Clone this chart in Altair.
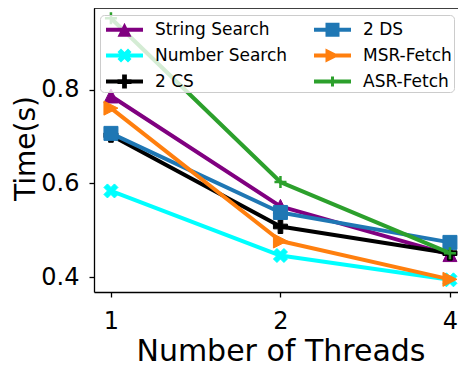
import altair as alt
import pandas as pd

threads = [1, 2, 4]
series = ["String Search", "Number Search", "2 CS", "2 DS", "MSR-Fetch", "ASR-Fetch"]
string_search = [0.787, 0.551, 0.448]
number_search = [0.584, 0.446, 0.394]
cs2 = [0.703, 0.508, 0.451]
ds2 = [0.707, 0.538, 0.474]
msr_fetch = [0.761, 0.477, 0.395]
asr_fetch = [0.953, 0.603, 0.451]
values = [string_search, number_search, cs2, ds2, msr_fetch, asr_fetch]
colors = ["#800080", "#00ffff", "#000000", "#1f77b4", "#ff7f0e", "#2ca02c"]

# marker paths (unit square -1..1)
TRI_UP = "M0,-1L1,1L-1,1Z"
X_FILL = "M-0.5,-1L0,-0.5L0.5,-1L1,-0.5L0.5,0L1,0.5L0.5,1L0,0.5L-0.5,1L-1,0.5L-0.5,0L-1,-0.5Z"
P_FILL = "M-0.333,-1H0.333V-0.333H1V0.333H0.333V1H-0.333V0.333H-1V-0.333H-0.333Z"
SQUARE = "M-1,-1H1V1H-1Z"
TRI_RIGHT = "M1,0L-1,1L-1,-1Z"
PLUS = "M-1,0H1M0,-1V1"
markers = [TRI_UP, X_FILL, P_FILL, SQUARE, TRI_RIGHT, PLUS]
marker_filled = [True, True, True, True, True, False]

# legend symbols: a line segment plus the marker (unit = 12.5 px)
LINE = "M-1.48,-0.16H1.48V0.16H-1.48Z"
leg_paths = [
    LINE + "M0,-0.56L0.56,0.56L-0.56,0.56Z",
    LINE + "M-0.28,-0.56L0,-0.28L0.28,-0.56L0.56,-0.28L0.28,0L0.56,0.28L0.28,0.56L0,0.28L-0.28,0.56L-0.56,0.28L-0.28,0L-0.56,-0.28Z",
    LINE + "M-0.19,-0.56H0.19V-0.19H0.56V0.19H0.19V0.56H-0.19V0.19H-0.56V-0.19H-0.19Z",
    LINE + "M-0.56,-0.56H0.56V0.56H-0.56Z",
    LINE + "M0.56,0L-0.56,0.56L-0.56,-0.56Z",
    LINE + "M-0.4,-0.12H0.4V0.12H-0.4ZM-0.12,-0.4H0.12V0.4H-0.12Z",
]

rows = []
for s, vals in zip(series, values):
    for i, (t, v) in enumerate(zip(threads, vals)):
        rows.append({"series": s, "idx": i, "threads": t, "value": v})
df = pd.DataFrame(rows)

W, H = 364, 284
STEP = 169.5
label_expr = "[" + ",".join('"%d"' % t for t in threads) + "][datum.value]"

x_enc = alt.X(
    "idx:Q",
    scale=alt.Scale(domain=[-0.1, -0.1 + W / STEP], nice=False, zero=False),
    axis=alt.Axis(
        values=list(range(len(threads))), labelExpr=label_expr, title="Number of Threads",
        grid=False, tickSize=5, labelPadding=12, titleX=0.1 * STEP + STEP, titleY=68,
        titleBaseline="alphabetic", titleAnchor="middle", titleAlign="center",
        titleFontSize=30,
    ),
)
y_enc = alt.Y(
    "value:Q",
    scale=alt.Scale(domain=[0.368, 0.975], nice=False, zero=False),
    axis=alt.Axis(
        values=[0.4, 0.6, 0.8], format=".1f", title="Time(s)", grid=False,
        tickSize=5, labelPadding=10, titleX=-60, titleY=140,
        titleBaseline="alphabetic", titleAngle=270, titleAlign="center",
    ),
)

base = alt.Chart(df)
layers = []
for s, c, m, f in zip(series, colors, markers, marker_filled):
    sub = base.transform_filter(alt.datum.series == s)
    layers.append(sub.mark_line(color=c, strokeWidth=4, strokeJoin="round").encode(x=x_enc, y=y_enc))
    if f:
        pt = sub.mark_point(shape=m, filled=True, color=c, size=196, opacity=1,
                            stroke=c, strokeWidth=1)
    else:
        pt = sub.mark_point(shape=m, filled=False, color=c, size=144, opacity=1,
                            strokeWidth=2.5)
    layers.append(pt.encode(x=x_enc, y=y_enc))

# legend-only layer (no marks drawn); entries fill column by column
legend = alt.Legend(
    title=None, orient="none", legendX=6, legendY=7, columns=2,
    columnPadding=22, rowPadding=5, padding=2,
    labelFont="DejaVu Sans", labelFontSize=17, labelColor="black", labelLimit=300,
    symbolSize=625, symbolOffset=10, labelOffset=18, symbolStrokeWidth=0,
    fillColor="rgba(255,255,255,0.8)", strokeColor="#cccccc", cornerRadius=4,
    symbolOpacity=1,
)
leg_layer = base.transform_filter("false").mark_point(filled=True, opacity=1).encode(
    x=x_enc, y=y_enc,
    color=alt.Color("series:N", scale=alt.Scale(domain=series, range=colors), legend=legend),
    shape=alt.Shape("series:N", scale=alt.Scale(domain=series, range=leg_paths), legend=legend),
)
layers.append(leg_layer)

top = alt.Chart(pd.DataFrame({"a": [0]})).mark_rule(color="black", strokeWidth=1.3).encode(
    x=alt.value(0), x2=alt.value(W), y=alt.value(0)
)
layers.append(top)

chart = alt.layer(*layers).properties(
    width=W, height=H,
    autosize=alt.AutoSizeParams(type="none"),
    padding={"left": 86, "top": 0, "right": 0, "bottom": 76},
).configure_view(stroke=None).configure_axis(
    domainColor="black", domainWidth=1.3, tickColor="black", tickWidth=1.3,
    labelFont="DejaVu Sans", labelFontSize=24, labelColor="black",
    titleFont="DejaVu Sans", titleFontSize=28, titleFontWeight="normal", titleColor="black",
)

chart.save("out.html", embed_options={"renderer": "svg", "actions": False})
